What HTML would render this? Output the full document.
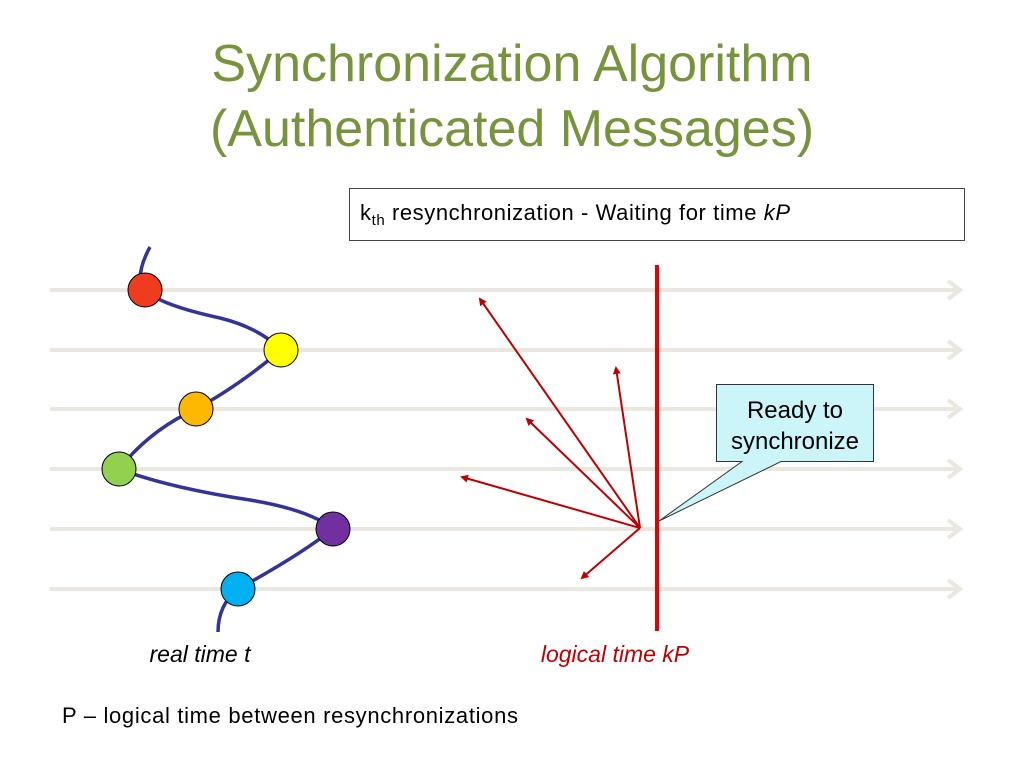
<!DOCTYPE html>
<html><head><meta charset="utf-8"><style>
body{margin:0;width:1024px;height:768px;background:#fff;overflow:hidden;font-family:"Liberation Sans",sans-serif;}
.t{position:absolute;left:0;width:1024px;text-align:center;color:#77933C;font-size:52px;line-height:65px;}
</style></head><body>
<div class="t" style="top:32px">Synchronization Algorithm<br>(Authenticated Messages)</div>
<svg width="1024" height="768" style="position:absolute;left:0;top:0">
<defs><marker id="a" markerWidth="8" markerHeight="8" refX="6" refY="4" orient="auto" markerUnits="userSpaceOnUse"><path d="M0,0 L8,4 L0,8 Z" fill="#C00000"/></marker></defs>
<rect x="349.5" y="188.5" width="615" height="52" fill="#fff" stroke="#444"/>
<text x="360" y="220" font-size="22" font-family="Liberation Sans" textLength="430">k<tspan font-size="15" dy="5">th</tspan><tspan dy="-5"> resynchronization - Waiting for time </tspan><tspan font-style="italic">kP</tspan></text>
<g stroke="#EAE7DE" stroke-width="4" fill="none">
<line x1="50" y1="290" x2="960" y2="290"/><polyline points="948,281 960,290 948,299"/>
<line x1="50" y1="350" x2="960" y2="350"/><polyline points="948,341 960,350 948,359"/>
<line x1="50" y1="409" x2="960" y2="409"/><polyline points="948,400 960,409 948,418"/>
<line x1="50" y1="469" x2="960" y2="469"/><polyline points="948,460 960,469 948,478"/>
<line x1="50" y1="529" x2="960" y2="529"/><polyline points="948,520 960,529 948,538"/>
<line x1="50" y1="589" x2="960" y2="589"/><polyline points="948,580 960,589 948,598"/>
</g>
<path d="M150,247 Q140,265 140,280 M145,290 Q160,305 220,318 Q260,328 281,350 Q240,385 196,409 Q150,430 119,469 Q170,488 250,500 Q310,510 333,529 Q300,555 238,589 Q218,605 218,632" stroke="#333399" stroke-width="3.5" fill="none"/>
<g stroke="#000" stroke-width="1">
<circle cx="145" cy="290" r="17" fill="#F03C1E"/>
<circle cx="281" cy="350" r="17" fill="#FFFF00"/>
<circle cx="196" cy="409" r="17" fill="#FFB800"/>
<circle cx="119" cy="469" r="17" fill="#92D050"/>
<circle cx="333" cy="529" r="17" fill="#7030A0"/>
<circle cx="238" cy="589" r="17" fill="#00B0F0"/>
</g>
<line x1="657" y1="265" x2="657" y2="631" stroke="#E60000" stroke-width="4"/>
<g stroke="#C00000" stroke-width="2" marker-end="url(#a)">
<line x1="640" y1="528" x2="480" y2="299"/>
<line x1="640" y1="528" x2="616" y2="368"/>
<line x1="640" y1="528" x2="527" y2="419"/>
<line x1="640" y1="528" x2="462" y2="477"/>
<line x1="640" y1="528" x2="582" y2="578"/>
</g>
<path d="M716.5,384.5 H873.5 V461.5 H781 L659,521 L742,461.5 H716.5 Z" fill="#CCF5FA" stroke="#333" stroke-width="1"/>
<text x="795" y="418" font-size="24" text-anchor="middle">Ready to</text>
<text x="795" y="449" font-size="24" text-anchor="middle">synchronize</text>
<text x="200" y="662" font-size="23" font-style="italic" text-anchor="middle">real time t</text>
<text x="615" y="662" font-size="23" font-style="italic" fill="#C00000" text-anchor="middle">logical time kP</text>
<text x="62" y="723" font-size="22" textLength="456">P – logical time between resynchronizations</text>
</svg>
</body></html>
